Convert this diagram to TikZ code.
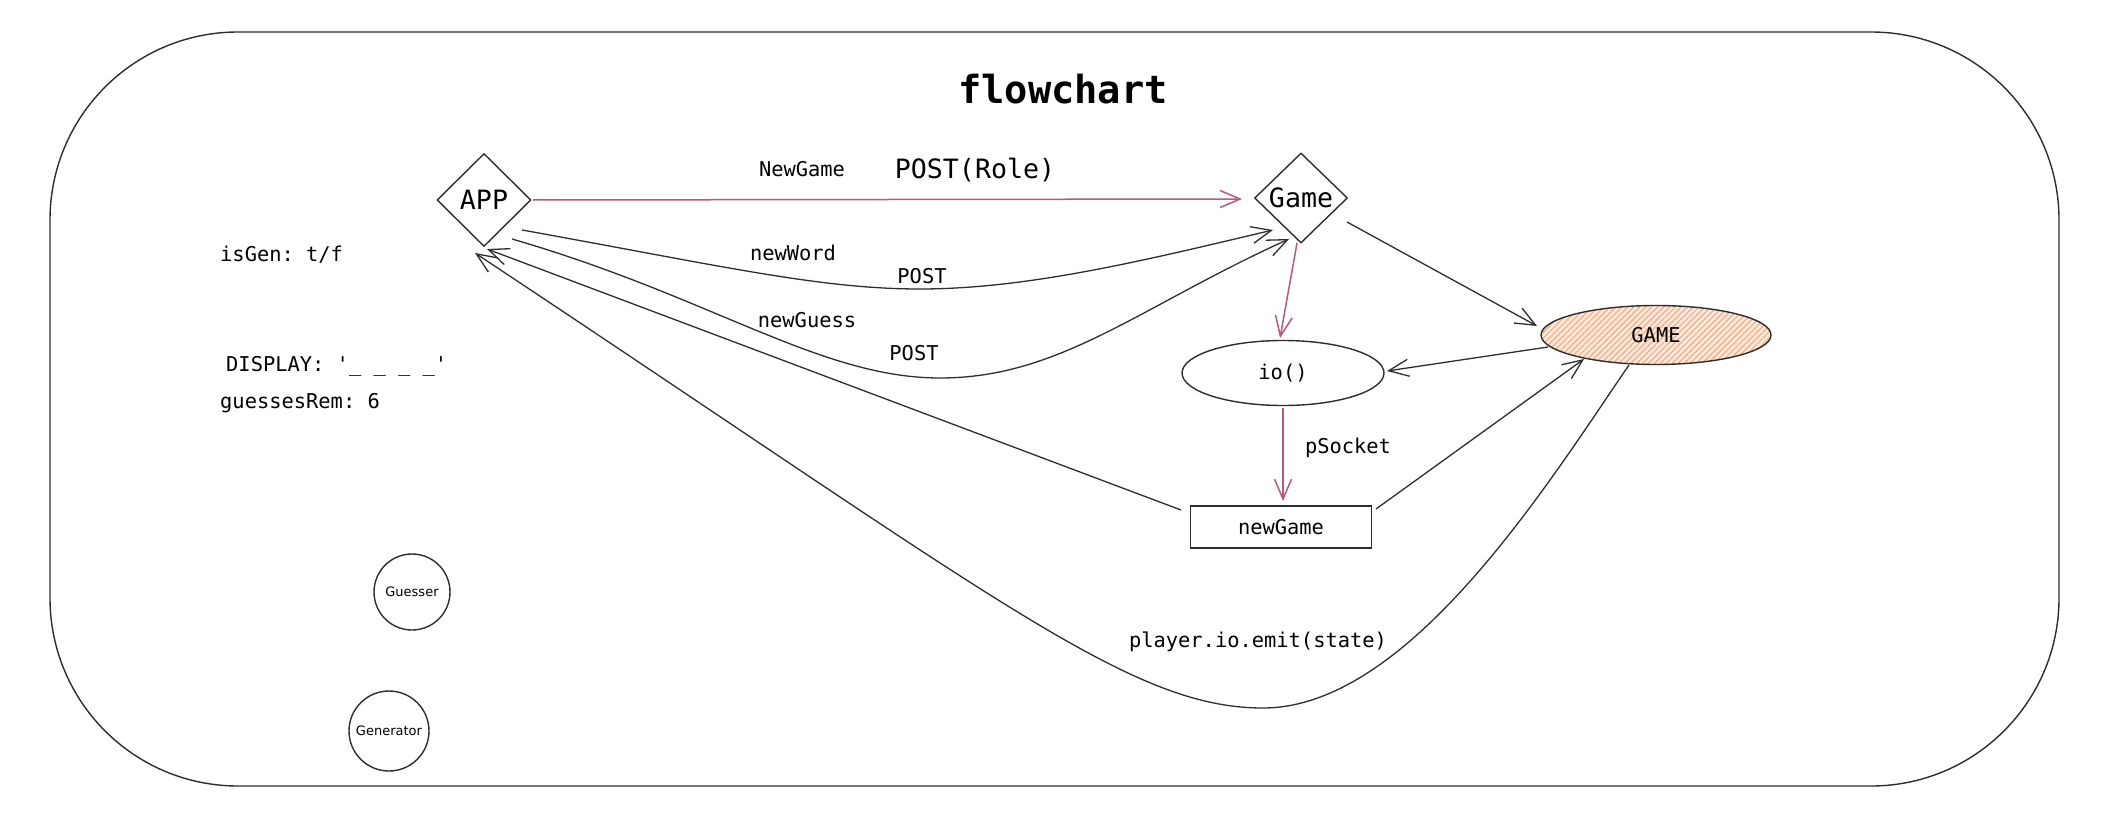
\documentclass[tikz,border=0pt]{standalone}
\usepackage{fontspec}
\setmainfont{DejaVu Sans}
\setmonofont{DejaVu Sans Mono}
\newfontfamily\handfont{DejaVu Sans}
\usetikzlibrary{shapes.geometric,arrows.meta,patterns.meta,calc}
\definecolor{ink}{RGB}{45,45,45}
\definecolor{redarrow}{RGB}{184,88,124}
\definecolor{hatch}{RGB}{245,165,115}
\begin{document}
\begin{tikzpicture}[x=1pt,y=-1pt,
  shp/.style={draw=ink,line width=1.4pt,inner sep=0pt},
  lbl/.style={font=\ttfamily\fontsize{20.4pt}{24pt}\selectfont,inner sep=0pt},
  biglbl/.style={font=\ttfamily\fontsize{26.6pt}{30pt}\selectfont,inner sep=0pt},
  hand/.style={font=\handfont\fontsize{13pt}{15pt}\selectfont,inner sep=0pt},
  arr/.style={draw=ink,line width=1.3pt,-{Straight Barb[length=20pt,width=17pt]}},
  redarr/.style={draw=redarrow,line width=1.5pt,-{Straight Barb[length=20pt,width=17pt]}}
]
\useasboundingbox (0,0) rectangle (2108,824);
\draw[draw=ink,line width=1.4pt,rounded corners=188pt] (50,32) rectangle (2059,786);

\node[font=\ttfamily\bfseries\fontsize{38.7pt}{44pt}\selectfont,inner sep=0pt] (title) at (1063,89) {flowchart};

% nodes
\node[shp,diamond,aspect=1,minimum width=94pt,minimum height=93pt,biglbl] (APP) at (484,200) {APP};
\node[shp,diamond,aspect=1,minimum width=93pt,minimum height=90pt,biglbl] (Game) at (1301,198) {Game};
\node[shp,ellipse,minimum width=202pt,minimum height=65pt,lbl] (io) at (1283,373) {io()};
\node[shp,ellipse,minimum width=230pt,minimum height=59pt,lbl,
      preaction={fill=hatch!25},
      pattern={Lines[angle=45,distance=4.2pt,line width=1pt]},pattern color=hatch] (GAME) at (1656,335) {};
\node[lbl] (GAMEtxt) at (GAME.center) {GAME};
\node[shp,rectangle,minimum width=181pt,minimum height=42pt,lbl] (newGame) at (1281,527) {newGame};
\node[shp,circle,minimum size=76pt,hand] (guesser) at (412,592) {Guesser};
\node[shp,circle,minimum size=80pt,hand] (generator) at (389,731) {Generator};

% labels
\node[lbl] (lNewGame) at (802,169) {NewGame};
\node[biglbl] (lPostRole) at (975,170) {POST(Role)};
\node[lbl] (lnewWord) at (793,253) {newWord};
\node[lbl] (lPost1) at (922,276) {POST};
\node[lbl] (lnewGuess) at (807,320) {newGuess};
\node[lbl] (lPost2) at (914,353) {POST};
\node[lbl] (lpSocket) at (1348,448) {pSocket};
\node[lbl,anchor=west] (lisGen) at (220,255) {isGen: t/f};
\node[lbl,anchor=west] (ldisplay) at (226,366) {DISPLAY: '\_ \_ \_ \_'};
\node[lbl,anchor=west] (lguesses) at (220,403) {guessesRem: 6};
\node[lbl] (lemit) at (1258,642) {player.io.emit(state)};

% connectors
\draw[redarr] ($(APP)+(49,0)$) -- ($(Game)+(-59,1)$);
\draw[arr] ($(APP)+(38,30)$) .. controls (722,266) and (820,289) .. (920,289)
   .. controls (1030,289) and (1150,259) .. ($(Game)+(-28,32)$);
\draw[arr] ($(APP)+(28,39)$) .. controls (712,297) and (820,378) .. (940,378)
   .. controls (1060,378) and (1139,307) .. ($(Game)+(-12,41)$);
\draw[redarr] ($(Game)+(-4,45)$) -- ($(io)+(-3,-35)$);
\draw[arr] ($(Game)+(46,24)$) -- ($(GAME)+(-119,-9)$);
\draw[arr] ($(GAME)+(-108,12)$) -- ($(io)+(104,-2)$);
\draw[redarr] ($(io)+(0,35)$) -- ($(newGame)+(2,-26)$);
\draw[arr] ($(newGame)+(95,-18)$) -- ($(GAME)+(-72,24)$);
\draw[arr] ($(newGame)+(-100,-17)$) -- ($(APP)+(3,49)$);
\draw[arr] ($(GAME)+(-27,30)$) .. controls (1550,480) and (1410,708) .. (1263,708)
   .. controls (1130,708) and (1000,601) .. ($(APP)+(-9,53)$);
\end{tikzpicture}
\end{document}
